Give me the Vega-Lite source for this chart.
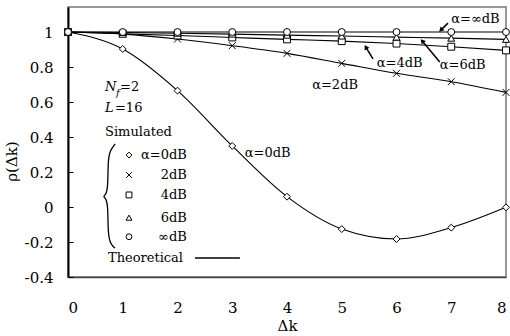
{
  "$schema": "https://vega.github.io/schema/vega-lite/v6.json",
  "width": 438,
  "height": 270,
  "autosize": {"type": "none"},
  "padding": {"left": 68, "top": 7, "right": 4, "bottom": 59},
  "config": {
    "font": "DejaVu Serif",
    "view": {"stroke": "#777", "strokeWidth": 1.5},
    "axis": {"grid": false, "labelFont": "DejaVu Serif", "titleFont": "DejaVu Serif", "labelFontSize": 15, "titleFontSize": 15, "labelColor": "black", "titleColor": "black", "titleFontWeight": "normal"},
    "text": {"font": "DejaVu Serif", "fontSize": 13, "color": "black"}
  },
  "datasets": {
    "sim": [
      {"x": 0, "y": 1, "series": "0dB"}, {"x": 1, "y": 0.903, "series": "0dB"}, {"x": 2, "y": 0.665, "series": "0dB"}, {"x": 3, "y": 0.349, "series": "0dB"}, {"x": 4, "y": 0.059, "series": "0dB"}, {"x": 5, "y": -0.126, "series": "0dB"}, {"x": 6, "y": -0.183, "series": "0dB"}, {"x": 7, "y": -0.118, "series": "0dB"}, {"x": 8, "y": -0.002, "series": "0dB"},
      {"x": 0, "y": 1, "series": "2dB"}, {"x": 1, "y": 0.988, "series": "2dB"}, {"x": 2, "y": 0.96, "series": "2dB"}, {"x": 3, "y": 0.922, "series": "2dB"}, {"x": 4, "y": 0.878, "series": "2dB"}, {"x": 5, "y": 0.821, "series": "2dB"}, {"x": 6, "y": 0.764, "series": "2dB"}, {"x": 7, "y": 0.716, "series": "2dB"}, {"x": 8, "y": 0.655, "series": "2dB"},
      {"x": 0, "y": 1, "series": "4dB"}, {"x": 1, "y": 0.99, "series": "4dB"}, {"x": 2, "y": 0.98, "series": "4dB"}, {"x": 3, "y": 0.969, "series": "4dB"}, {"x": 4, "y": 0.958, "series": "4dB"}, {"x": 5, "y": 0.948, "series": "4dB"}, {"x": 6, "y": 0.934, "series": "4dB"}, {"x": 7, "y": 0.916, "series": "4dB"}, {"x": 8, "y": 0.895, "series": "4dB"},
      {"x": 0, "y": 1, "series": "6dB"}, {"x": 1, "y": 0.997, "series": "6dB"}, {"x": 2, "y": 0.993, "series": "6dB"}, {"x": 3, "y": 0.988, "series": "6dB"}, {"x": 4, "y": 0.982, "series": "6dB"}, {"x": 5, "y": 0.977, "series": "6dB"}, {"x": 6, "y": 0.971, "series": "6dB"}, {"x": 7, "y": 0.965, "series": "6dB"}, {"x": 8, "y": 0.958, "series": "6dB"},
      {"x": 0, "y": 1, "series": "inf"}, {"x": 1, "y": 1, "series": "inf"}, {"x": 2, "y": 1, "series": "inf"}, {"x": 3, "y": 1, "series": "inf"}, {"x": 4, "y": 1, "series": "inf"}, {"x": 5, "y": 1, "series": "inf"}, {"x": 6, "y": 1, "series": "inf"}, {"x": 7, "y": 1, "series": "inf"}, {"x": 8, "y": 1, "series": "inf"}
    ],
    "legendsym": [
      {"x": 1.114, "y": 0.297, "series": "0dB"},
      {"x": 1.114, "y": 0.183, "series": "2dB"},
      {"x": 1.114, "y": 0.069, "series": "4dB"},
      {"x": 1.114, "y": -0.061, "series": "6dB"},
      {"x": 1.114, "y": -0.17, "series": "inf"}
    ],
    "texts": [
      {"x": 7.0, "y": 1.074, "text": "α=∞dB", "kind": "note"},
      {"x": 5.64, "y": 0.823, "text": "α=4dB", "kind": "note"},
      {"x": 6.79, "y": 0.811, "text": "α=6dB", "kind": "note"},
      {"x": 4.46, "y": 0.697, "text": "α=2dB", "kind": "note"},
      {"x": 3.23, "y": 0.309, "text": "α=0dB", "kind": "note"},
      {"x": 0.676, "y": 0.429, "text": "Simulated", "kind": "note"},
      {"x": 0.73, "y": -0.291, "text": "Theoretical", "kind": "note"},
      {"x": 0.95, "y": 0.686, "text": "=2", "kind": "note"},
      {"x": 0.858, "y": 0.566, "text": "=16", "kind": "note"},
      {"x": 0.676, "y": 0.686, "text": "N", "kind": "italic"},
      {"x": 0.676, "y": 0.566, "text": "L", "kind": "italic"},
      {"x": 0.877, "y": 0.651, "text": "f", "kind": "sub"},
      {"x": 2.17, "y": 0.297, "text": "α=0dB", "kind": "legend"},
      {"x": 2.17, "y": 0.183, "text": "2dB", "kind": "legend"},
      {"x": 2.17, "y": 0.069, "text": "4dB", "kind": "legend"},
      {"x": 2.17, "y": -0.061, "text": "6dB", "kind": "legend"},
      {"x": 2.17, "y": -0.17, "text": "∞dB", "kind": "legend"}
    ],
    "arrows": [
      {"name": "inf", "x": 6.94, "y": 1.051, "x2": 6.81, "y2": 1.011},
      {"name": "4dB", "x": 5.57, "y": 0.846, "x2": 5.44, "y2": 0.914},
      {"name": "6dB", "x": 6.79, "y": 0.829, "x2": 6.47, "y2": 0.949}
    ],
    "theoline": [
      {"x": 2.32, "x2": 3.14, "y": -0.291}
    ],
    "brace": [
      {"i": 0, "x": 0.86, "y": 0.36},
      {"i": 1, "x": 0.77, "y": 0.325},
      {"i": 2, "x": 0.73, "y": 0.27},
      {"i": 3, "x": 0.73, "y": 0.11},
      {"i": 4, "x": 0.69, "y": 0.07},
      {"i": 5, "x": 0.64, "y": 0.06},
      {"i": 6, "x": 0.69, "y": 0.05},
      {"i": 7, "x": 0.73, "y": 0.01},
      {"i": 8, "x": 0.73, "y": -0.15},
      {"i": 9, "x": 0.77, "y": -0.21},
      {"i": 10, "x": 0.86, "y": -0.235}
    ]
  },
  "encoding": {
    "x": {"field": "x", "type": "quantitative", "scale": {"domain": [0, 8], "nice": false, "zero": false},
      "axis": {"title": "Δk", "values": [0, 1, 2, 3, 4, 5, 6, 7, 8], "ticks": false, "labelPadding": 23, "titlePadding": 3, "domainColor": "#444", "domainWidth": 1.5}},
    "y": {"field": "y", "type": "quantitative", "scale": {"domain": [-0.4, 1.143], "nice": false, "zero": false},
      "axis": {"title": "ρ(Δk)", "values": [-0.4, -0.2, 0, 0.2, 0.4, 0.6, 0.8, 1], "format": ".1~f", "labelExpr": "replace(datum.label, '−', '-')", "labelOverlap": false, "tickSize": -5, "tickColor": "black", "labelPadding": 20, "titlePadding": 5, "titleY": 154, "domainColor": "black", "domainWidth": 2}}
  },
  "layer": [
    {
      "data": {"name": "sim"},
      "mark": {"type": "line", "interpolate": "monotone", "color": "black", "strokeWidth": 1.1},
      "encoding": {"detail": {"field": "series"}}
    },
    {
      "data": {"name": "sim"},
      "mark": {"type": "point", "filled": false, "fill": "white", "fillOpacity": 1, "stroke": "black", "strokeWidth": 1, "opacity": 1, "size": 48},
      "encoding": {"shape": {"field": "series", "type": "nominal", "legend": null,
        "scale": {"domain": ["0dB", "2dB", "4dB", "6dB", "inf"], "range": ["diamond", "M-1,-1L1,1M-1,1L1,-1", "square", "triangle-up", "circle"]}}}
    },
    {
      "data": {"name": "legendsym"},
      "mark": {"type": "point", "filled": false, "fill": "white", "fillOpacity": 1, "stroke": "black", "strokeWidth": 1, "opacity": 1, "size": 34},
      "encoding": {"shape": {"field": "series", "type": "nominal", "legend": null,
        "scale": {"domain": ["0dB", "2dB", "4dB", "6dB", "inf"], "range": ["diamond", "M-1,-1L1,1M-1,1L1,-1", "square", "triangle-up", "circle"]}}}
    },
    {
      "data": {"name": "texts"},
      "transform": [{"filter": "datum.kind == 'note'"}],
      "mark": {"type": "text", "align": "left", "baseline": "middle"},
      "encoding": {"text": {"field": "text"}}
    },
    {
      "data": {"name": "texts"},
      "transform": [{"filter": "datum.kind == 'legend'"}],
      "mark": {"type": "text", "align": "right", "baseline": "middle"},
      "encoding": {"text": {"field": "text"}}
    },
    {
      "data": {"name": "texts"},
      "transform": [{"filter": "datum.kind == 'italic'"}],
      "mark": {"type": "text", "align": "left", "baseline": "middle", "fontStyle": "italic"},
      "encoding": {"text": {"field": "text"}}
    },
    {
      "data": {"name": "texts"},
      "transform": [{"filter": "datum.kind == 'sub'"}],
      "mark": {"type": "text", "align": "left", "baseline": "middle", "fontStyle": "italic", "fontSize": 10},
      "encoding": {"text": {"field": "text"}}
    },
    {
      "data": {"name": "theoline"},
      "mark": {"type": "rule", "color": "black", "strokeWidth": 1.5},
      "encoding": {"x2": {"field": "x2"}}
    },
    {
      "data": {"name": "arrows"},
      "mark": {"type": "rule", "color": "black", "strokeWidth": 1.5},
      "encoding": {"x2": {"field": "x2"}, "y2": {"field": "y2"}}
    },
    {
      "data": {"name": "arrows"},
      "transform": [{"filter": "datum.name == 'inf'"}],
      "mark": {"type": "point", "shape": "triangle-up", "filled": true, "color": "black", "opacity": 1, "size": 30, "angle": 225},
      "encoding": {"x": {"field": "x2", "type": "quantitative"}, "y": {"field": "y2", "type": "quantitative"}}
    },
    {
      "data": {"name": "arrows"},
      "transform": [{"filter": "datum.name == '4dB'"}],
      "mark": {"type": "point", "shape": "triangle-up", "filled": true, "color": "black", "opacity": 1, "size": 30, "angle": 330},
      "encoding": {"x": {"field": "x2", "type": "quantitative"}, "y": {"field": "y2", "type": "quantitative"}}
    },
    {
      "data": {"name": "arrows"},
      "transform": [{"filter": "datum.name == '6dB'"}],
      "mark": {"type": "point", "shape": "triangle-up", "filled": true, "color": "black", "opacity": 1, "size": 30, "angle": 319},
      "encoding": {"x": {"field": "x2", "type": "quantitative"}, "y": {"field": "y2", "type": "quantitative"}}
    },
    {
      "data": {"name": "brace"},
      "mark": {"type": "line", "interpolate": "basis", "color": "black", "strokeWidth": 1.3},
      "encoding": {"order": {"field": "i", "type": "quantitative"}}
    }
  ]
}
